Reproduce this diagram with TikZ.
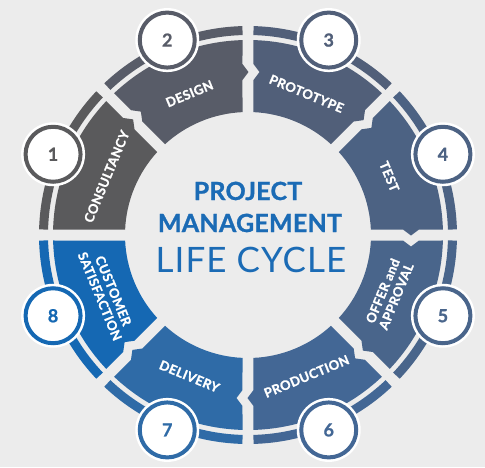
\documentclass[tikz,border=0pt]{standalone}
\usepackage{fontspec}
\setmainfont{Lato}
\newfontfamily\labfont{Lato}[UprightFont=*, BoldFont=* Bold, BoldFeatures={FakeBold=1.2, LetterSpace=3}]
\newfontfamily\titfont{Lato}[UprightFont=*, BoldFont=* Bold, BoldFeatures={FakeBold=1.0, LetterSpace=1}]
\newfontfamily\lifefontfam{Lato}[LetterSpace=3]
\usetikzlibrary{calc}
\definecolor{bg}{RGB}{236,236,236}
\definecolor{c1}{RGB}{90,90,92}
\definecolor{c2}{RGB}{88,92,104}
\definecolor{c3}{RGB}{81,95,121}
\definecolor{c4}{RGB}{76,98,131}
\definecolor{c5}{RGB}{73,101,139}
\definecolor{c6}{RGB}{67,103,149}
\definecolor{c7}{RGB}{47,107,167}
\definecolor{c8}{RGB}{21,104,179}
\definecolor{titleblue}{RGB}{27,107,181}
\def\Rin{123}
\def\Rout{195}
\def\Rc{163}
\def\hh{8}
\def\dd{5.5}
\newcommand\segfill[5]{%
  \pgfmathsetmacro\dIn{asin(\dd/\Rin)}%
  \pgfmathsetmacro\dOut{asin(\dd/\Rout)}%
  \fill[#5] (#1+\dIn:\Rin)
    -- ($(#1:\Rc-\hh)+(#1+90:\dd)$)
    -- ($(#1:\Rc)+(#1+90:\dd-#3)$)
    -- ($(#1:\Rc+\hh)+(#1+90:\dd)$)
    -- (#1+\dOut:\Rout)
    arc[start angle=#1+\dOut, end angle=#2-\dOut, radius=\Rout]
    -- ($(#2:\Rc+\hh)+(#2-90:\dd)$)
    -- ($(#2:\Rc)+(#2-90:\dd+#4)$)
    -- ($(#2:\Rc-\hh)+(#2-90:\dd)$)
    -- (#2-\dIn:\Rin)
    arc[start angle=#2-\dIn, end angle=#1+\dIn, radius=\Rin]
    -- cycle;}
\tikzset{
  seglabel/.style={text=white, font=\labfont\bfseries\fontsize{13}{14.5}\selectfont, align=center, inner sep=0pt},
  whitedisk/.style={circle, fill=white, minimum size=64pt, inner sep=0pt},
  numcirc/.style={circle, fill=white, minimum size=55pt, line width=4pt, inner sep=0pt, font=\titfont\bfseries\fontsize{18}{18}\selectfont},
  titlefont/.style={text=titleblue, font=\titfont\bfseries\fontsize{25}{25}\selectfont, inner sep=0pt},
  lifefont/.style={text=titleblue, font=\lifefontfam\fontsize{35}{35}\selectfont, inner sep=0pt}
}
\begin{document}
\begin{tikzpicture}[x=1pt,y=1pt]
\fill[bg] (-248,-232) rectangle (237,235);
\useasboundingbox (-248,-232) rectangle (237,235);
\foreach \n/\t/\col/\pt/\nt/\rot/\lab in {
 1/157.5/c1/6/0/67.5/{CONSULTANCY},
 2/112.5/c2/6/6/22.5/{DESIGN},
 3/67.5/c3/6/6/-22.5/{PROTOTYPE},
 4/22.5/c4/6/6/-67.5/{TEST},
 5/-22.5/c5/6/6/67.5/{OFFER and\\APPROVAL},
 6/-67.5/c6/6/6/22.5/{PRODUCTION},
 7/-112.5/c7/6/6/-22.5/{DELIVERY},
 8/-157.5/c8/0/6/-67.5/{CUSTOMER\\SATISFACTION}}
{
 \pgfmathsetmacro\aA{\t-22.5}
 \pgfmathsetmacro\aB{\t+22.5}
 \segfill{\aA}{\aB}{\pt}{\nt}{\col}
 \pgfmathsetmacro\bA{\aA+asin(\dd/204.5)}
 \pgfmathsetmacro\bB{\aB-asin(\dd/204.5)}
 \draw[\col, line width=9pt] (\bA:204.5) arc[start angle=\bA, end angle=\bB, radius=204.5];
 \node[seglabel, rotate=\rot] (l\n) at (\t:153) {\lab};
}
\foreach \n/\t/\col in {1/157.5/c1, 2/112.5/c2, 3/67.5/c3, 4/22.5/c4, 5/-22.5/c5, 6/-67.5/c6, 7/-112.5/c7, 8/-157.5/c8}
{
 \node[whitedisk] (w\n) at (\t:211) {};
 \node[numcirc, draw=\col, text=\col] (n\n) at (\t:211) {\n};
}
\node[titlefont, anchor=base] (t1) at (0,35) {PROJECT};
\node[titlefont, anchor=base] (t2) at (2,3) {MANAGEMENT};
\node[lifefont, anchor=base] (t3) at (3,-37) {LIFE CYCLE};
\end{tikzpicture}
\end{document}
